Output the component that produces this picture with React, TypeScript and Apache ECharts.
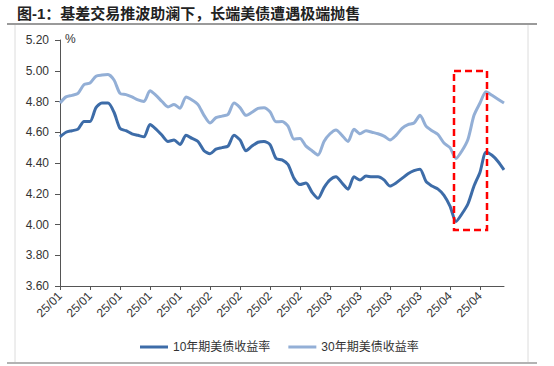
import React, { useEffect, useRef } from "react";
import * as echarts from "echarts";

const dates: string[] = [
  "2025-01-02","2025-01-03","2025-01-06","2025-01-07","2025-01-08","2025-01-09","2025-01-10",
  "2025-01-13","2025-01-14","2025-01-15","2025-01-16","2025-01-17",
  "2025-01-20","2025-01-21","2025-01-22","2025-01-23","2025-01-24",
  "2025-01-27","2025-01-28","2025-01-29","2025-01-30","2025-01-31",
  "2025-02-03","2025-02-04","2025-02-05","2025-02-06","2025-02-07",
  "2025-02-10","2025-02-11","2025-02-12","2025-02-13","2025-02-14",
  "2025-02-17","2025-02-18","2025-02-19","2025-02-20","2025-02-21",
  "2025-02-24","2025-02-25","2025-02-26","2025-02-27","2025-02-28",
  "2025-03-03","2025-03-04","2025-03-05","2025-03-06","2025-03-07",
  "2025-03-10","2025-03-11","2025-03-12","2025-03-13","2025-03-14",
  "2025-03-17","2025-03-18","2025-03-19","2025-03-20","2025-03-21",
  "2025-03-24","2025-03-25","2025-03-26","2025-03-27","2025-03-28",
  "2025-03-31",
  "2025-04-01","2025-04-02","2025-04-03","2025-04-04",
  "2025-04-07","2025-04-08","2025-04-09","2025-04-10","2025-04-11",
  "2025-04-14","2025-04-15","2025-04-16",
];

const yield10y: number[] = [
  4.57, 4.60, 4.61, 4.62, 4.67, 4.67, 4.76, 4.79, 4.79, 4.73,
  4.625, 4.61, 4.59, 4.58, 4.57, 4.65, 4.62, 4.58, 4.54, 4.55,
  4.52, 4.58, 4.56, 4.54, 4.48, 4.46, 4.49, 4.50, 4.51, 4.58,
  4.55, 4.48, 4.51, 4.535, 4.54, 4.52, 4.43, 4.42, 4.39, 4.30,
  4.26, 4.27, 4.21, 4.17, 4.24, 4.29, 4.31, 4.27, 4.23, 4.31,
  4.29, 4.315, 4.31, 4.31, 4.29, 4.25, 4.27, 4.30, 4.33, 4.35,
  4.36, 4.28, 4.25, 4.23, 4.19, 4.12, 4.02, 4.07, 4.135, 4.25,
  4.34, 4.47, 4.45, 4.41, 4.355,
];

const yield30y: number[] = [
  4.79, 4.83, 4.84, 4.853, 4.91, 4.92, 4.965, 4.972, 4.975, 4.94,
  4.853, 4.845, 4.83, 4.81, 4.80, 4.87, 4.84, 4.80, 4.765, 4.78,
  4.756, 4.83, 4.81, 4.78, 4.71, 4.66, 4.695, 4.705, 4.715, 4.79,
  4.76, 4.71, 4.73, 4.755, 4.76, 4.733, 4.668, 4.67, 4.64, 4.555,
  4.56, 4.51, 4.48, 4.452, 4.54, 4.59, 4.615, 4.58, 4.54, 4.62,
  4.59, 4.61, 4.60, 4.59, 4.575, 4.55, 4.58, 4.625, 4.65, 4.66,
  4.71, 4.64, 4.61, 4.585, 4.53, 4.50, 4.43, 4.48, 4.555, 4.71,
  4.79, 4.864, 4.84, 4.815, 4.79,
];

const seriesNames: string[] = ["10年期美债收益率", "30年期美债收益率"];
const seriesColors: string[] = ["#3D6CA8", "#93AFD6"];
const titleText = "图-1：基差交易推波助澜下，长端美债遭遇极端抛售";

export default function App() {
  const ref = useRef<HTMLDivElement>(null);
  useEffect(() => {
    document.body.style.margin = "0";
    if (!ref.current) return;
    const chart = echarts.init(ref.current, undefined, { renderer: "svg" });
    const latin = "'Liberation Sans', Arial, sans-serif";
    const cjk = "'Liberation Sans', 'Noto Sans CJK SC', sans-serif";
    chart.setOption({
      animation: false,
      backgroundColor: "#ffffff",
      grid: { left: 60, right: 50, top: 40, bottom: 80, containLabel: false },
      legend: {
        left: 135,
        top: 336,
        icon: "rect",
        itemWidth: 28,
        itemHeight: 3,
        itemGap: 18,
        textStyle: { fontFamily: cjk, fontSize: 12, color: "#333" },
        data: seriesNames,
      },
      xAxis: {
        type: "category",
        boundaryGap: false,
        data: dates,
        axisLine: { lineStyle: { color: "#555", width: 1 } },
        axisTick: { show: true, interval: 4, length: 4, lineStyle: { color: "#555" } },
        axisLabel: {
          interval: 4,
          rotate: 45,
          margin: 8,
          fontFamily: latin,
          fontSize: 12,
          color: "#333",
          formatter: (v: string) => v.slice(2, 4) + "/" + v.slice(5, 7),
        },
        splitLine: { show: false },
      },
      yAxis: {
        type: "value",
        min: 3.6,
        max: 5.2,
        interval: 0.2,
        axisLine: { show: true, lineStyle: { color: "#555", width: 1 } },
        axisTick: { show: true, length: 5, lineStyle: { color: "#555" } },
        axisLabel: {
          margin: 11,
          fontFamily: latin,
          fontSize: 12,
          color: "#333",
          formatter: (v: number) => v.toFixed(2),
        },
        splitLine: { show: false },
      },
      series: [
        {
          name: seriesNames[0],
          type: "line",
          data: yield10y,
          smooth: 0.25,
          showSymbol: false,
          lineStyle: { color: seriesColors[0], width: 3 },
          itemStyle: { color: seriesColors[0] },
          z: 3,
        },
        {
          name: seriesNames[1],
          type: "line",
          data: yield30y,
          smooth: 0.25,
          showSymbol: false,
          lineStyle: { color: seriesColors[1], width: 3 },
          itemStyle: { color: seriesColors[1] },
          z: 2,
        },
      ],
      graphic: [
        {
          type: "text",
          left: 17,
          top: 6,
          style: {
            text: titleText,
            fontFamily: "'Liberation Sans', 'Noto Sans CJK SC', sans-serif",
            fontWeight: "bold",
            fontSize: 15,
            fill: "#222",
          },
        },
        {
          type: "line",
          shape: { x1: 7, y1: 24, x2: 537, y2: 24 },
          style: { stroke: "#9a9a9a", lineWidth: 2 },
        },
        {
          type: "line",
          shape: { x1: 15, y1: 25, x2: 15, y2: 362 },
          style: { stroke: "#dcdcdc", lineWidth: 1 },
        },
        {
          type: "line",
          shape: { x1: 528, y1: 25, x2: 528, y2: 362 },
          style: { stroke: "#dcdcdc", lineWidth: 1 },
        },
        {
          type: "line",
          shape: { x1: 7, y1: 363, x2: 537, y2: 363 },
          style: { stroke: "#9a9a9a", lineWidth: 1.5 },
        },
        {
          type: "text",
          left: 65,
          top: 33,
          style: { text: "%", fontFamily: latin, fontSize: 12, fill: "#333" },
        },
        {
          type: "rect",
          shape: { x: 454, y: 71, width: 33, height: 159 },
          style: { fill: "none", stroke: "#FF0000", lineWidth: 2.5, lineDash: [7, 4] },
          z: 10,
        },
      ],
    });
    return () => chart.dispose();
  }, []);
  return <div ref={ref} style={{ width: 554, height: 366 }} />;
}
